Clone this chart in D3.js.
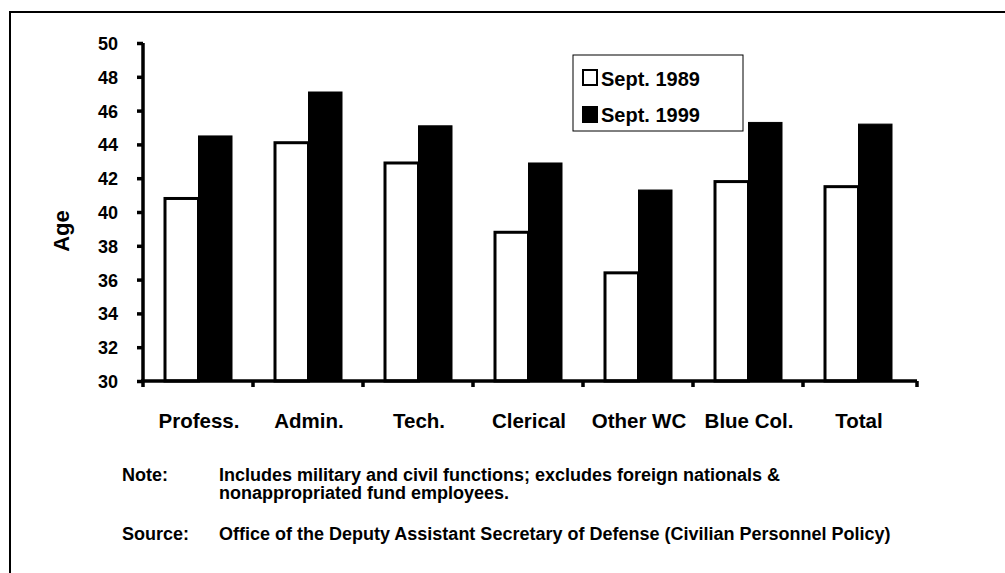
<!DOCTYPE html>
<html><head><meta charset="utf-8">
<script src="https://cdn.jsdelivr.net/npm/d3@7"></script>
<style>
html,body{margin:0;padding:0;background:#fff;}
svg text{font-family:"Liberation Sans",Arial,Helvetica,sans-serif;font-weight:bold;fill:#000;}
</style></head>
<body>
<svg id="chart" width="1005" height="573"></svg>
<script>
const categories = ["Profess.", "Admin.", "Tech.", "Clerical", "Other WC", "Blue Col.", "Total"];
const seriesNames = ["Sept. 1989", "Sept. 1999"];
const sept1989 = [40.8, 44.1, 42.9, 38.8, 36.4, 41.8, 41.5];
const sept1999 = [44.5, 47.1, 45.1, 42.9, 41.3, 45.3, 45.2];
const yTicks = [30, 32, 34, 36, 38, 40, 42, 44, 46, 48, 50];
const seriesColors = ["#ffffff", "#000000"];

const svg = d3.select("#chart");

// outer frame
svg.append("rect").attr("x", 10).attr("y", 12).attr("width", 1010).attr("height", 580)
  .attr("fill", "none").attr("stroke", "#000").attr("stroke-width", 2);

const x0 = d3.scaleBand().domain(categories).range([143, 913]).padding(0);
const x1 = d3.scaleBand().domain(seriesNames).range([22, 89]).padding(0);
const y = d3.scaleLinear().domain([30, 50]).range([381, 43]);

const data = categories.map((c, i) => ({cat: c, vals: [
  {s: seriesNames[0], v: sept1989[i]}, {s: seriesNames[1], v: sept1999[i]}]}));

// bars
const g = svg.append("g");
const groups = g.selectAll("g.grp").data(data).join("g")
  .attr("transform", d => `translate(${x0(d.cat)},0)`);
groups.selectAll("rect").data(d => d.vals).join("rect")
  .attr("x", d => x1(d.s))
  .attr("y", d => y(d.v))
  .attr("width", x1.bandwidth())
  .attr("height", d => y(30) - y(d.v))
  .attr("fill", (d, i) => seriesColors[i])
  .attr("stroke", "#000")
  .attr("stroke-width", (d, i) => i === 0 ? 3 : 1);

// y axis
const yAxis = d3.axisLeft(y).tickValues(yTicks).tickSize(6).tickPadding(19).tickFormat(d3.format("d"));
const ya = svg.append("g").attr("transform", "translate(143,0)").call(yAxis);
ya.select(".domain").attr("stroke-width", 3.5).attr("d", `M0,${y(50)}V${y(30)}`);
ya.selectAll(".tick line").attr("stroke-width", 3.5);
ya.selectAll(".tick text").attr("font-size", 18).attr("font-family", null).attr("dy", "0.36em");

// x axis line and boundary ticks
const xa = svg.append("g");
xa.append("line").attr("x1", 141).attr("x2", 917).attr("y1", y(30)).attr("y2", y(30))
  .attr("stroke", "#000").attr("stroke-width", 3.5);
const bounds = categories.map(c => x0(c)).concat([x0.range()[1] + 4]);
xa.selectAll("line.tk").data(bounds).join("line").attr("class", "tk")
  .attr("x1", d => d).attr("x2", d => d).attr("y1", y(30)).attr("y2", y(30) + 6)
  .attr("stroke", "#000").attr("stroke-width", 3.5);

// category labels
svg.append("g").selectAll("text").data(categories).join("text")
  .attr("x", d => x0(d) + x0.bandwidth() / 2 + 1)
  .attr("y", 428)
  .attr("text-anchor", "middle")
  .attr("font-size", 20.5)
  .text(d => d);

// y title
svg.append("text").attr("transform", "translate(69,231) rotate(-90)")
  .attr("text-anchor", "middle").attr("font-size", 22).text("Age");

// legend
const lg = svg.append("g");
lg.append("rect").attr("x", 573).attr("y", 55).attr("width", 170).attr("height", 76)
  .attr("fill", "#fff").attr("stroke", "#000").attr("stroke-width", 1);
const legRows = seriesNames.map((s, i) => ({s, c: seriesColors[i], yb: i === 0 ? 86 : 122}));
lg.selectAll("rect.sw").data(legRows).join("rect").attr("class", "sw")
  .attr("x", (d, i) => i === 0 ? 583 : 582).attr("y", d => d.yb - 16)
  .attr("width", (d, i) => i === 0 ? 14 : 16).attr("height", (d, i) => i === 0 ? 15 : 17)
  .attr("fill", d => d.c).attr("stroke", "#000").attr("stroke-width", (d, i) => i === 0 ? 2 : 0);
lg.selectAll("text").data(legRows).join("text")
  .attr("x", 601).attr("y", d => d.yb).attr("font-size", 20).text(d => d.s);

// notes
const notes = svg.append("g");
const fs = 18;
notes.append("text").attr("x", 122).attr("y", 481).attr("font-size", fs).text("Note:");
notes.append("text").attr("x", 219).attr("y", 481).attr("font-size", fs)
  .text("Includes military and civil functions; excludes foreign nationals &");
notes.append("text").attr("x", 219).attr("y", 499).attr("font-size", fs)
  .text("nonappropriated fund employees.");
notes.append("text").attr("x", 122).attr("y", 540).attr("font-size", fs).text("Source:");
notes.append("text").attr("x", 219).attr("y", 540).attr("font-size", fs)
  .text("Office of the Deputy Assistant Secretary of Defense (Civilian Personnel Policy)");
</script>
</body></html>
